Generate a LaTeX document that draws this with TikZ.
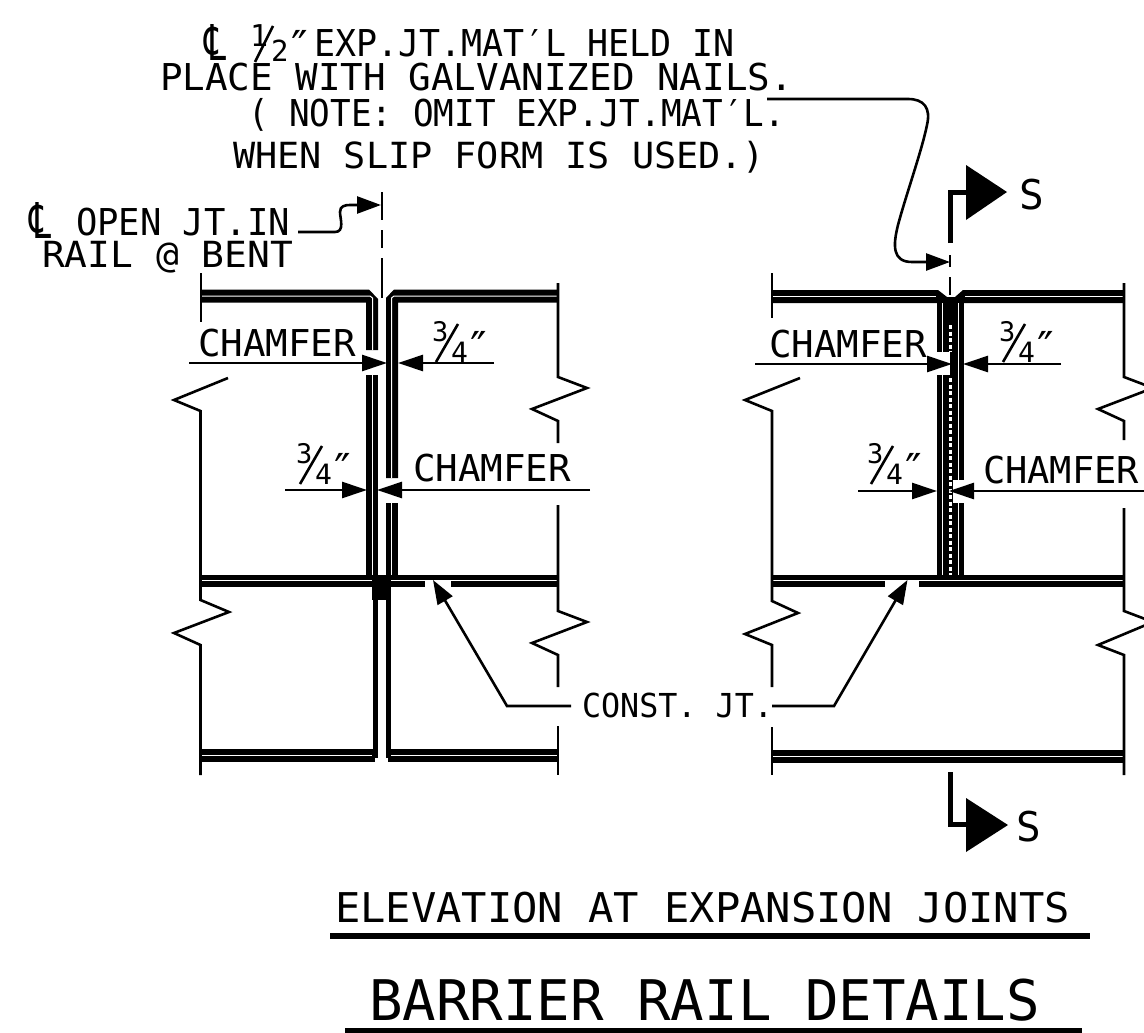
\documentclass[tikz,border=0pt]{standalone}
\usepackage{fontspec}
\usepackage{graphicx}
\setmainfont{DejaVu Sans Mono}
\newfontfamily\clfont{DejaVu Sans}
\usetikzlibrary{arrows.meta}
\tikzset{
  cadtext/.style={inner sep=0pt,outer sep=0pt,anchor=base west,text=black},
  ln/.style={line width=2.6pt,draw=black,line join=miter},
  wl/.style={line width=1pt,draw=white},
  tip/.style={-{Triangle[length=24pt,width=17pt]}},
  smalltip/.style={-{Triangle[length=25pt,width=16pt]}}
}
\newcommand\ctxt[6]{\node[cadtext] (#1) at (#2,#3) {\fontsize{#4pt}{#4pt}\selectfont\resizebox{#5pt}{\height}{#6}};}
\newcommand\rb[4]{\fill[black] (#1,#2) rectangle (#3,#4);}
\newcommand\clsym[3]{\node[cadtext] (#1) at (#2,#3) {\clfont\resizebox{22pt}{36pt}{℄}};}
\newcommand\threeq[3]{%
  \node[cadtext] (#1a) at (#2,#3-21) {\fontsize{27pt}{27pt}\selectfont 3};
  \node[cadtext] (#1b) at (#2+19,#3) {\fontsize{28pt}{28pt}\selectfont 4};
  \node[cadtext] (#1c) at (#2+33,#3+1) {\fontsize{44pt}{44pt}\selectfont ″};
  \draw[ln] (#2+4,#3) -- (#2+26,#3-38);}
\begin{document}
\begin{tikzpicture}[x=1pt,y=-1pt]
\useasboundingbox (0,0) rectangle (1144,1033);
\clip (0,0) rectangle (1144,1033);
\fill[white] (0,0) rectangle (1144,1033);

% ---- top note
\clsym{cla}{204}{60}
\node[cadtext] (ha) at (250,47) {\fontsize{30pt}{30pt}\selectfont 1};
\node[cadtext] (hb) at (271,62) {\fontsize{29pt}{29pt}\selectfont 2};
\draw[ln] (255,62) -- (273,26);
\node[cadtext] (hc) at (286,63) {\fontsize{44pt}{44pt}\selectfont ″};
\ctxt{l1}{314}{57}{37}{421}{EXP.JT.MAT′L HELD IN}
\ctxt{l2}{160}{91}{37}{633}{PLACE WITH GALVANIZED NAILS.}
\ctxt{l3}{248}{127}{37}{537}{( NOTE: OMIT EXP.JT.MAT′L.}
\ctxt{l4}{233}{168}{36}{532}{WHEN SLIP FORM IS USED.)}

% ---- left note
\clsym{clb}{29}{238}
\ctxt{m1}{76}{235}{37}{214}{OPEN JT.IN}
\ctxt{m2}{42}{267}{36}{251}{RAIL @ BENT}

% ---- centre line, left view
\rb{380.6}{192}{382.6}{220}
\rb{380.6}{230}{382.6}{248}
\rb{380.6}{258}{382.6}{298}
\coordinate (clA) at (381,205);
\coordinate (m1e) at (298,232);
\draw[ln,tip] (m1e) -- (335,232) .. controls (345,232) and (340,218) .. (340,212) .. controls (340,206) and (345,205) .. (350,205) -- (clA);

% ---- left view structure
\fill[black] (201,289.5) -- (369,289.5) -- (378,299) -- (378,350) -- (366,350) -- (366,302.5) -- (201,302.5) -- cycle;
\draw[wl] (201,296) -- (370,296) -- (372.5,298) -- (372.5,350);
\fill[black] (394,289.5) -- (558,289.5) -- (558,302.5) -- (398,302.5) -- (398,478) -- (386,478) -- (386,298) -- cycle;
\draw[wl] (558,296) -- (394,296) -- (391.5,298) -- (391.5,478);
\rb{366}{375}{378}{575}
\draw[wl] (372.5,375) -- (372.5,575);
\rb{386}{503}{398}{575}
\draw[wl] (391.5,503) -- (391.5,575);
\rb{200}{575}{372}{587}
\draw[wl] (200,580.3) -- (372,580.3);
\rb{372}{575}{391}{600}
\rb{391}{575}{558}{579.8}
\rb{391}{581}{425}{587}
\rb{451}{581}{558}{587}
\rb{372.5}{600}{378}{758}
\rb{385.5}{600}{391}{758}
\rb{200}{748.5}{375}{761.7}
\draw[wl] (200,755) -- (372,755);
\rb{388}{748.5}{558}{761.7}
\draw[wl] (391,755) -- (558,755);

% outlines, left view
\draw[ln] (201,273) -- (201,322);
\draw[ln] (228,378) -- (174,400) -- (200.5,411) -- (200.5,600) -- (229,612) -- (174,633) -- (200.5,645) -- (200.5,775);
\draw[ln] (558,283) -- (558,377) -- (587,388) -- (532,409) -- (558,421) -- (558,443);
\draw[ln] (558,505) -- (558,611) -- (587,622) -- (532,643) -- (558,655) -- (558,687);
\draw[ln] (558,726) -- (558,775);

% dimensions, left view
\ctxt{c1}{198}{356}{37}{158}{CHAMFER}
\coordinate (d1a) at (189,363); \coordinate (d1b) at (387,363);
\coordinate (d1c) at (494,363); \coordinate (d1d) at (398,363);
\draw[ln,smalltip] (d1a) -- (d1b);
\draw[ln,smalltip] (d1c) -- (d1d);
\threeq{fa}{432}{362}
\threeq{fb}{296}{484}
\ctxt{c2}{413}{481}{37}{158}{CHAMFER}
\coordinate (d2a) at (285,490); \coordinate (d2b) at (367,490);
\coordinate (d2c) at (590,490); \coordinate (d2d) at (377,490);
\draw[ln,smalltip] (d2a) -- (d2b);
\draw[ln,smalltip] (d2c) -- (d2d);

% ---- right view structure
\fill[black] (772,290) -- (938,290) -- (947,297) -- (955,297) -- (963,290) -- (1124,290) -- (1124,303) -- (772,303) -- cycle;
\draw[wl] (772,296) -- (936,296);
\draw[wl] (965,296) -- (1124,296);
\rb{937}{303}{950}{352}
\rb{937}{375}{950}{575}
\rb{950}{303}{964}{480}
\rb{952}{503}{964}{575}
\draw[wl] (942.8,303) -- (942.8,352);
\draw[wl] (942.8,375) -- (942.8,575);
\draw[wl] (958.2,303) -- (958.2,480);
\draw[wl] (958.2,503) -- (958.2,575);
\rb{945}{375}{953}{575}
\draw[white,line width=3pt,dash pattern=on 4pt off 2.5pt] (950.5,325) -- (950.5,352);
\draw[white,line width=3pt,dash pattern=on 4pt off 2.5pt] (950.5,378) -- (950.5,575);
\rb{772}{575}{1124}{579.8}
\rb{772}{581}{885}{587}
\rb{919}{581}{1124}{587}
\rb{772}{750}{1124}{762.5}
\draw[wl] (772,756) -- (1124,756);

% outlines, right view
\draw[ln] (772,273) -- (772,318);
\draw[ln] (800,378) -- (745,400) -- (772,411) -- (772,601) -- (798,613) -- (745,634) -- (772,645) -- (772,687);
\draw[ln] (772,727) -- (772,775);
\draw[ln] (1124,283) -- (1124,377) -- (1153,388) -- (1098,409) -- (1124,421) -- (1124,440);
\draw[ln] (1124,508) -- (1124,611) -- (1153,622) -- (1098,645) -- (1124,655) -- (1124,775);

% dimensions, right view
\ctxt{c3}{769}{357}{37}{158}{CHAMFER}
\coordinate (d3a) at (755,364); \coordinate (d3b) at (952,364);
\coordinate (d3c) at (1061,364); \coordinate (d3d) at (963,364);
\fill[white] (936,352) rectangle (950,375);
\draw[ln,smalltip] (d3a) -- (d3b);
\draw[ln,smalltip] (d3c) -- (d3d);
\threeq{fc}{999}{362}
\threeq{fd}{867}{484}
\ctxt{c4}{983}{483}{37}{156}{CHAMFER}
\coordinate (d4a) at (858,491); \coordinate (d4b) at (937,491);
\coordinate (d4c) at (1144,491); \coordinate (d4d) at (949,491);
\draw[ln,smalltip] (d4a) -- (d4b);
\draw[ln,smalltip] (d4c) -- (d4d);

% ---- section marks, right view
\rb{949}{255}{951}{267}
\rb{949}{277}{951}{295}
\coordinate (sa) at (950.5,243); \coordinate (sb) at (966,192);
\draw[line width=5pt] (sa) -- (950.5,192) -- (sb);
\fill[black] (966,165) -- (1007,192) -- (966,220) -- cycle;
\node[cadtext] (s1) at (1019,209) {\fontsize{41pt}{41pt}\selectfont S};
\coordinate (sc) at (950,772); \coordinate (sd) at (966,824);
\draw[line width=5pt] (sc) -- (950,824) -- (sd);
\fill[black] (966,798) -- (1008,825) -- (966,852) -- cycle;
\node[cadtext] (s2) at (1016,841) {\fontsize{41pt}{41pt}\selectfont S};

% ---- top leader
\coordinate (n1) at (767,99);
\coordinate (n2) at (950,262);
\draw[ln,tip] (n1) -- (908,99) .. controls (924,99) and (931,108) .. (927,125) .. controls (922,150) and (906,195) .. (898,225) .. controls (893,245) and (892,262) .. (912,262) -- (n2);

% ---- construction joint
\ctxt{cj}{582}{717}{33}{191}{CONST. JT.}
\coordinate (j1) at (433,580);
\coordinate (j2) at (907.5,580);
\coordinate (j0) at (571,706);
\coordinate (j3) at (772,706);
\draw[ln,tip] (j0) -- (507,706) -- (j1);
\draw[ln,tip] (j3) -- (834,706) -- (j2);

% ---- titles
\ctxt{t1}{335}{922}{41}{735}{ELEVATION AT EXPANSION JOINTS}
\rb{330}{933}{1090}{939}
\ctxt{t2}{369}{1020}{56}{671}{BARRIER RAIL DETAILS}
\rb{345}{1028}{1082}{1033}
\end{tikzpicture}
\end{document}
